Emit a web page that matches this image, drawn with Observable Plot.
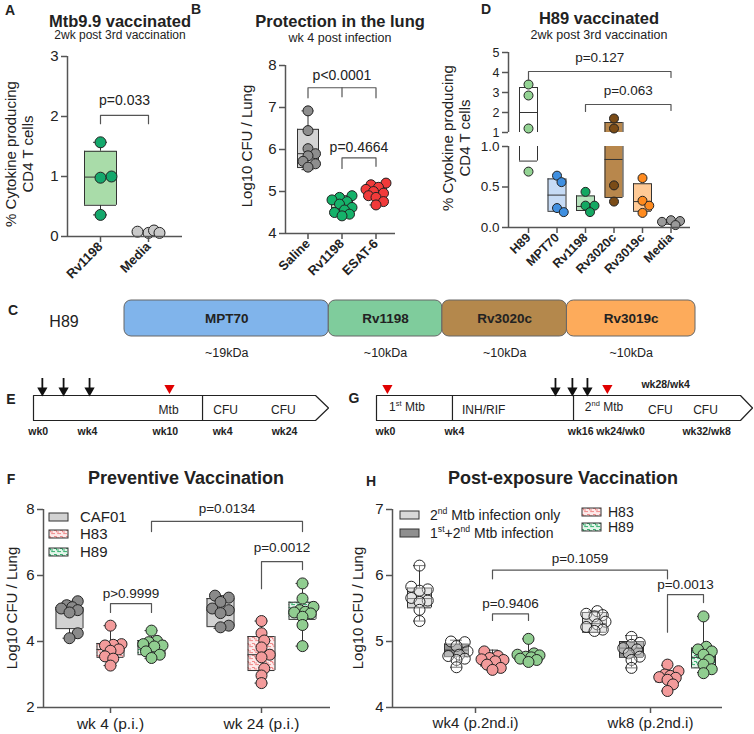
<!DOCTYPE html>
<html><head><meta charset="utf-8">
<script src="https://cdn.jsdelivr.net/npm/d3@7"></script>
<script src="https://cdn.jsdelivr.net/npm/@observablehq/plot@0.6"></script>
<style>
html,body{margin:0;padding:0;background:#fff;}
#root{position:relative;width:754px;height:734px;overflow:hidden;font-family:"Liberation Sans",Arial,sans-serif;color:#222;}
.t{position:absolute;white-space:nowrap;line-height:1.15;}
.t sup{font-size:62%;vertical-align:super;line-height:0;}
</style></head><body>
<svg width="0" height="0" style="position:absolute">
 <defs>
  <pattern id="p83" patternUnits="userSpaceOnUse" width="6" height="6">
   <rect width="6" height="6" fill="#fdeaea"/>
   <path d="M0 1.5h2.5v1.5h2.5M3.2 4.6h2.8M0 4.6h1" stroke="#ee8080" stroke-width="0.9" fill="none"/>
  </pattern>
  <pattern id="p89" patternUnits="userSpaceOnUse" width="6" height="6">
   <rect width="6" height="6" fill="#e4f5ea"/>
   <path d="M0 1.5h2.5v1.5h2.5M3.2 4.6h2.8M0 4.6h1" stroke="#22a862" stroke-width="0.9" fill="none"/>
  </pattern>
 </defs>
</svg>
<div id="root"></div>
<script>
// ======================= DATA =======================
// A — Mtb9.9 vaccinated
const aCats = ["Rv1198", "Media"];
const aRv1198 = [1.57, 1.00, 0.98, 0.36];
const aMedia = [0.06, 0.10, 0.06, 0.08];
const aQ1 = [0.52, 0.06];
const aMedian = [0.99, 0.07];
const aQ3 = [1.42, 0.09];
const aLow = [0.36, null];
const aHigh = [1.57, null];
const aTicks = [0, 1, 2, 3];
const aP = ["p=0.033"];

// B — Protection in the lung
const bCats = ["Saline", "Rv1198", "ESAT-6"];
const bSaline = [6.92, 6.45, 6.02, 5.90, 5.85, 5.72, 5.66, 5.58];
const bRv1198 = [4.90, 4.86, 4.80, 4.76, 4.70, 4.62, 4.56, 4.50, 4.46, 4.42];
const bEsat6 = [5.20, 5.16, 5.10, 5.05, 5.00, 4.96, 4.90, 4.86, 4.76, 4.68];
const bQ1 = [5.57, 4.52, 4.85];
const bMedian = [5.90, 4.62, 4.97];
const bQ3 = [6.48, 4.82, 5.10];
const bLow = [5.52, 4.42, 4.68];
const bHigh = [6.92, 4.90, 5.20];
const bTicks = [4, 5, 6, 7, 8];
const bP = ["p<0.0001", "p=0.4664"];

// D — H89 vaccinated (broken axis)
const dCats = ["H89", "MPT70", "Rv1198", "Rv3020c", "Rv3019c", "Media"];
const dH89 = [3.40, 2.85, 1.20, 0.69];
const dMPT70 = [0.64, 0.56, 0.24, 0.19];
const dRv1198 = [0.44, 0.27, 0.27, 0.19];
const dRv3020c = [1.70, 1.20, 0.52, 0.32];
const dRv3019c = [0.61, 0.33, 0.27, 0.18];
const dMedia = [0.09, 0.08, 0.07, 0.03];
const dQ1 = [0.82, 0.20, 0.21, 0.37, 0.20, 0.04];
const dMedian = [2.00, 0.40, 0.26, 0.84, 0.32, 0.06];
const dQ3 = [3.25, 0.60, 0.39, 1.50, 0.54, 0.08];
const dTicksUpper = [1, 2, 3, 4, 5];
const dTicksLower = [0, 0.5, 1];
const dP = ["p=0.127", "p=0.063"];

// C — H89 fusion construct
const cProteins = ["MPT70", "Rv1198", "Rv3020c", "Rv3019c"];
const cLength = [205, 114, 125, 129];
const cSize = ["~19kDa", "~10kDa", "~10kDa", "~10kDa"];

// E — preventive timeline (schematic units 0-100)
const eVacc = [3.0, 10.2, 19.0];
const eInfect = [46.1];
const eDividers = [57.3];
const eBoxLabels = ["Mtb", "CFU", "CFU"];
const eBoxLabelPos = [45.8, 65.1, 84.7];
const eTickLabels = ["wk0", "wk4", "wk10", "wk4", "wk24"];
const eTickPos = [1.6, 18.3, 44.7, 64.1, 85.1];

// G — post-exposure timeline (schematic units 0-100)
const gVacc = [47.6, 52.1, 56.1];
const gInfect = [2.9, 61.4];
const gDividers = [20.2, 52.4];
const gBoxLabels = ["INH/RIF", "CFU", "CFU"];
const gBoxLabelPos = [28.5, 75.5, 87.5];
const gTickLabels = ["wk0", "wk4", "wk16", "wk24/wk0", "wk32/wk8"];
const gTickPos = [2.4, 20.7, 54.3, 64.9, 87.8];

// F — Preventive Vaccination
const fCats = ["wk 4 (p.i.)", "wk 24 (p.i.)"];
const fGroups = ["CAF01", "H83", "H89"];
const fCaf01Wk4 = [5.22, 5.10, 5.04, 5.00, 4.95, 4.88, 4.25, 4.10];
const fH83Wk4 = [4.48, 3.92, 3.90, 3.88, 3.76, 3.72, 3.55, 3.48, 3.27];
const fH89Wk4 = [4.33, 4.02, 3.98, 3.92, 3.88, 3.85, 3.70, 3.60, 3.50];
const fCaf01Wk24 = [5.39, 5.33, 5.20, 5.00, 4.95, 4.86, 4.48, 4.43];
const fH83Wk24 = [4.62, 4.25, 4.03, 3.82, 3.60, 3.52, 3.18, 2.97, 2.74];
const fH89Wk24 = [5.76, 5.30, 5.05, 4.95, 4.90, 4.88, 4.85, 4.75, 4.50, 3.86];
const fQ1 = [4.39, 3.52, 3.60, 4.45, 3.12, 4.67];
const fMedian = [4.98, 3.76, 3.87, 4.95, 3.60, 4.89];
const fQ3 = [5.03, 3.94, 4.03, 5.30, 4.15, 5.19];
const fLow = [4.10, 3.27, 3.48, 4.40, 2.74, 3.86];
const fHigh = [5.22, 4.48, 4.33, 5.39, 4.62, 5.76];
const fTicks = [2, 4, 6, 8];
const fP = ["p=0.0134", "p=0.0012", "p>0.9999"];

// H — Post-exposure Vaccination
const hCats = ["wk4 (p.2nd.i)", "wk8 (p.2nd.i)"];
const hGroups = ["2<sup>nd</sup> Mtb infection only", "1<sup>st</sup>+2<sup>nd</sup> Mtb infection", "H83", "H89"];
const hG1Wk4 = [6.15, 5.83, 5.79, 5.77, 5.66, 5.62, 5.60, 5.48, 5.31];
const hG2Wk4 = [5.00, 4.99, 4.93, 4.85, 4.80, 4.78, 4.74, 4.72, 4.61];
const hH83Wk4 = [4.85, 4.78, 4.75, 4.73, 4.72, 4.70, 4.65, 4.60, 4.57];
const hH89Wk4 = [5.04, 4.82, 4.80, 4.79, 4.77, 4.76, 4.74, 4.72, 4.69];
const hG1Wk8 = [5.46, 5.42, 5.40, 5.38, 5.30, 5.26, 5.22, 5.18, 5.16];
const hG2Wk8 = [5.07, 4.98, 4.95, 4.90, 4.88, 4.82, 4.77, 4.72, 4.60];
const hH83Wk8 = [4.65, 4.55, 4.50, 4.48, 4.46, 4.45, 4.42, 4.35, 4.25];
const hH89Wk8 = [5.38, 4.92, 4.88, 4.85, 4.80, 4.72, 4.65, 4.58, 4.52];
const hQ1 = [5.51, 4.77, 4.63, 4.70, 5.14, 4.76, 4.39, 4.60];
const hMedian = [5.65, 4.87, 4.72, 4.77, 5.27, 4.90, 4.45, 4.76];
const hQ3 = [5.81, 4.96, 4.78, 4.81, 5.44, 5.00, 4.51, 4.90];
const hLow = [5.31, 4.61, 4.57, 4.69, 5.14, 4.60, 4.25, 4.53];
const hHigh = [6.15, 5.02, 4.87, 5.04, 5.46, 5.09, 4.64, 5.38];
const hTicks = [4, 5, 6, 7];
const hP = ["p=0.1059", "p=0.0013", "p=0.9406"];

// ======================= STYLES =======================
const INK = "#333", AXC = "#555", TXT = "#222";
const A_BOX = ["#a9dca9", "#dcdcdc"], A_PT = ["#14a86c", "#c9c9c9"];
const B_BOX = ["#d4d4d4", "#c3e6c3", "#f6c0c0"], B_PT = ["#8e8e8e", "#15b26a", "#f13a3a"];
const D_BOX = ["#ffffff", "#c6dbf5", "#b7e3bd", "#b8874c", "#ffca96", "#cfcfcf"];
const D_PT = ["#93d393", "#3f8fe0", "#14a862", "#7b4c17", "#ff8b1f", "#9a9a9a"];
const F_BOX = ["#d2d2d2", "url(#p83)", "url(#p89)"], F_PT = ["#8a8a8a", "#f39b9b", "#90cd90"];
const H_BOX = ["#d9d9d9", "#8f8f8f", "url(#p83)", "url(#p89)"];
const H_PT = ["rgba(255,255,255,0.35)", "rgba(255,255,255,0.35)", "#f39b9b", "#90cd90"];
const C_FILL = ["#80b4eb", "#7fcc9c", "#b4884c", "#fdab5b"];
const BASE = {fontFamily: '"Liberation Sans", Arial, sans-serif', fontSize: "14px", color: TXT, overflow: "visible", background: "transparent"};

// ======================= HELPERS =======================
const root = document.getElementById("root");
function place(el, left, top) { el.style.position = "absolute"; el.style.left = left + "px"; el.style.top = top + "px"; root.appendChild(el); }
function txt(html, x, y, o = {}) {
  const d = document.createElement("div"); d.className = "t"; d.innerHTML = html;
  d.style.left = x + "px"; d.style.top = y + "px"; d.style.fontSize = (o.size || 14) + "px";
  d.style.fontWeight = o.bold ? "bold" : "normal";
  const tx = o.anchor === "start" ? "0" : o.anchor === "end" ? "-100%" : "-50%";
  d.style.transform = `translate(${tx},-50%)` + (o.rot ? ` rotate(${o.rot}deg)` : "");
  root.appendChild(d);
}
function swatch(x, y, w, h, fill) {
  const ns = "http://www.w3.org/2000/svg";
  const s = document.createElementNS(ns, "svg"); s.setAttribute("width", w + 2); s.setAttribute("height", h + 2);
  const r = document.createElementNS(ns, "rect"); r.setAttribute("x", 1); r.setAttribute("y", 1); r.setAttribute("width", w); r.setAttribute("height", h);
  r.setAttribute("fill", fill); r.setAttribute("stroke", INK); s.appendChild(r); place(s, x - 1, y - h / 2 - 1);
}
function swarm(py, r, maxOff, gap) {
  const n = py.length, out = new Array(n), placed = [];
  const order = d3.range(n).sort((a, b) => py[a] - py[b]);
  const cands = [0];
  for (let k = 1; k * r * 0.5 <= maxOff + 1e-6; k++) cands.push(k * r * 0.5, -k * r * 0.5);
  for (const i of order) {
    let best = 0, bestD = -1;
    for (const c of cands) {
      const d = placed.length ? d3.min(placed, p => Math.hypot(p.x - c, p.y - py[i])) : Infinity;
      if (d >= gap * r) { best = c; break; }
      if (d > bestD) { bestD = d; best = c; }
    }
    out[i] = best; placed.push({x: best, y: py[i]});
  }
  return out;
}
function groupPoints(groups, toPx, pxX, r, maxOff, gap) {
  const out = [];
  for (const g of groups) {
    const off = swarm(g.vals.map(toPx), r, maxOff, gap);
    g.vals.forEach((v, j) => out.push({x: g.x + off[j] / pxX, y: v, fill: g.pt}));
  }
  return out;
}
function boxMarks(groups, [d0, d1], hw, cap) {
  const inR = v => v != null && v >= d0 && v <= d1;
  const bx = groups.filter(g => g.q1 != null && g.q3 >= d0 && g.q1 <= d1)
    .map(g => ({...g, b1: Math.max(g.q1, d0), b2: Math.min(g.q3, d1)}));
  const wl = groups.filter(g => inR(g.lo)), wh = groups.filter(g => inR(g.hi));
  const ln = {stroke: INK, strokeWidth: 1};
  const L = g => g.x - hw, R = g => g.x + hw, CL = g => g.x - cap, CR = g => g.x + cap;
  return [
    Plot.ruleX(wl, {x: "x", y1: "lo", y2: "q1", ...ln}),
    Plot.ruleX(wh, {x: "x", y1: "q3", y2: "hi", ...ln}),
    Plot.ruleY(wl, {y: "lo", x1: CL, x2: CR, ...ln}),
    Plot.ruleY(wh, {y: "hi", x1: CL, x2: CR, ...ln}),
    Plot.rect(bx, {x1: L, x2: R, y1: "b1", y2: "b2", fill: "fill"}),
    Plot.ruleX(bx, {x: L, y1: "b1", y2: "b2", ...ln}),
    Plot.ruleX(bx, {x: R, y1: "b1", y2: "b2", ...ln}),
    Plot.ruleY(bx.filter(g => inR(g.q1)), {y: "q1", x1: L, x2: R, ...ln}),
    Plot.ruleY(bx.filter(g => inR(g.q3)), {y: "q3", x1: L, x2: R, ...ln}),
    Plot.ruleY(bx.filter(g => inR(g.med)), {y: "med", x1: L, x2: R, ...ln})
  ];
}
function brackets(list, fs) {
  const path = [];
  list.forEach((b, i) => path.push({k: i, x: b.x1, y: b.d1}, {k: i, x: b.x1, y: b.y}, {k: i, x: b.x2, y: b.y}, {k: i, x: b.x2, y: b.d2}));
  const mids = list.flatMap(b => (b.mids || []).map(m => ({x: m, y1: b.y, y2: b.d1})));
  return [
    Plot.line(path, {x: "x", y: "y", z: "k", stroke: "#555", strokeWidth: 1.2}),
    Plot.ruleX(mids, {x: "x", y1: "y1", y2: "y2", stroke: "#555", strokeWidth: 1.2}),
    Plot.text(list, {x: b => (b.x1 + b.x2) / 2, y: "ty", text: "label", fontSize: fs, fill: TXT})
  ];
}
const yAxis = (ticks, fmt, fs) => Plot.axisY({ticks, tickFormat: fmt, tickSize: 6, tickPadding: 3, fontSize: fs, stroke: AXC, strokeWidth: 1.5, fill: TXT, label: null});
const xAxis = (ticks, fmt, fs, rot, bold) => Plot.axisX({ticks, tickFormat: fmt, tickSize: 6, tickPadding: rot ? 2 : 4, fontSize: fs, tickRotate: rot || 0, fontWeight: bold ? "bold" : "normal", stroke: AXC, strokeWidth: 1.5, fill: TXT, label: null});
const axisLines = (xmin, ymin) => [Plot.ruleX([xmin], {stroke: AXC, strokeWidth: 1.5}), Plot.ruleY([ymin], {stroke: AXC, strokeWidth: 1.5})];

// ======================= PANEL A =======================
{
  const pxX = 48, pxY = 60, r = 5.5;
  const vals = [aRv1198, aMedia];
  const groups = aCats.map((c, i) => ({x: i, vals: vals[i], q1: aQ1[i], med: aMedian[i], q3: aQ3[i], lo: aLow[i], hi: aHigh[i], fill: A_BOX[i], pt: A_PT[i]}));
  const pts = groupPoints(groups, v => v * pxY, pxX, r, 14, 1.6);
  const xd = [-33 / pxX, 82 / pxX];
  place(Plot.plot({
    width: 190, height: 300, marginLeft: 67, marginRight: 8, marginTop: 56, marginBottom: 64,
    x: {domain: xd}, y: {domain: [0, 3]}, color: {type: "identity"}, style: BASE,
    marks: [
      ...boxMarks(groups, [0, 3], 16 / pxX, 7 / pxX),
      Plot.dot(pts, {x: "x", y: "y", r, fill: "fill", stroke: "#222", strokeWidth: 1}),
      ...brackets([{x1: 0, x2: 1, y: 2.02, d1: 1.88, d2: 1.88, ty: 2.27, label: aP[0]}], 14),
      ...axisLines(xd[0], 0),
      yAxis(aTicks, d3.format("d"), 15),
      xAxis([0, 1], i => aCats[i], 13, -45, true)
    ]
  }), 0, 0);
}

// ======================= PANEL B =======================
{
  const pxX = 34, pxY = 42, r = 5;
  const vals = [bSaline, bRv1198, bEsat6];
  const groups = bCats.map((c, i) => ({x: i, vals: vals[i], q1: bQ1[i], med: bMedian[i], q3: bQ3[i], lo: bLow[i], hi: bHigh[i], fill: B_BOX[i], pt: B_PT[i]}));
  const pts = groupPoints(groups, v => v * pxY, pxX, r, 10, 1.35);
  const xd = [-22.5 / pxX, 87.5 / pxX];
  place(Plot.plot({
    width: 210, height: 300, marginLeft: 95, marginRight: 5, marginTop: 65, marginBottom: 67,
    x: {domain: xd}, y: {domain: [4, 8]}, color: {type: "identity"}, style: BASE,
    marks: [
      ...boxMarks(groups, [4, 8], 10.5 / pxX, 6 / pxX),
      Plot.dot(pts, {x: "x", y: "y", r, fill: "fill", stroke: "#222", strokeWidth: 1}),
      ...brackets([
        {x1: 0, x2: 2, y: 7.47, d1: 7.23, d2: 7.23, mids: [1], ty: 7.77, label: bP[0]},
        {x1: 1, x2: 2, y: 5.80, d1: 5.55, d2: 5.60, ty: 6.04, label: bP[1]}
      ], 14),
      ...axisLines(xd[0], 4),
      yAxis(bTicks, d3.format("d"), 15),
      xAxis([0, 1, 2], i => bCats[i], 13, -45, true)
    ]
  }), 190, 0);
}

// ======================= PANEL D (broken y axis) =======================
{
  const pxX = 28.5, r = 4.5, hw = 9 / pxX;
  const toPx = v => v >= 1 ? 132 - (v - 1) * 20 : 227 - v * 82;
  const vals = [dH89, dMPT70, dRv1198, dRv3020c, dRv3019c, dMedia];
  const groups = dCats.map((c, i) => ({x: i, vals: vals[i], q1: dQ1[i], med: dMedian[i], q3: dQ3[i], lo: null, hi: null, fill: D_BOX[i], pt: D_PT[i]}));
  const pts = groupPoints(groups, toPx, pxX, r, 10, 1.6);
  const xd = [-20 / pxX, 162 / pxX];
  const dot = {x: "x", y: "y", r, fill: "fill", stroke: "#222", strokeWidth: 1};
  place(Plot.plot({
    width: 374, height: 140, marginLeft: 128, marginRight: 64, marginTop: 52, marginBottom: 8,
    x: {domain: xd, axis: null}, y: {domain: [1, 5]}, color: {type: "identity"}, style: BASE,
    marks: [
      ...boxMarks(groups, [1, 5], hw, 0),
      Plot.dot(pts.filter(p => p.y >= 1), dot),
      ...brackets([
        {x1: 0, x2: 5, y: 4.05, d1: 3.6, d2: 3.75, ty: 4.75, label: dP[0]},
        {x1: 2, x2: 5, y: 2.4, d1: 2.05, d2: 2.1, ty: 3.1, label: dP[1]}
      ], 13.5),
      Plot.ruleX([xd[0]], {stroke: AXC, strokeWidth: 1.5}),
      yAxis(dTicksUpper, d3.format("d"), 12.5)
    ]
  }), 380, 0);
  place(Plot.plot({
    width: 374, height: 150, marginLeft: 128, marginRight: 64, marginTop: 6, marginBottom: 63,
    x: {domain: xd}, y: {domain: [0, 1]}, color: {type: "identity"}, style: BASE,
    marks: [
      ...boxMarks(groups, [0, 1], hw, 0),
      Plot.dot(pts.filter(p => p.y < 1), dot),
      ...axisLines(xd[0], 0),
      yAxis(dTicksLower, d3.format(".1f"), 13.5),
      xAxis(d3.range(dCats.length), i => dCats[i], 12.5, -45, true)
    ]
  }), 380, 140);
}

// ======================= PANEL C =======================
{
  let acc = 0;
  const rows = cProteins.map((p, i) => { const s = acc; acc += cLength[i]; return {p, s, e: acc, size: cSize[i], fill: C_FILL[i]}; });
  place(Plot.plot({
    width: 754, height: 80, marginLeft: 124, marginRight: 59, marginTop: 10, marginBottom: 34,
    x: {domain: [0, acc], axis: null}, y: {domain: [0, 1], axis: null}, color: {type: "identity"}, style: BASE,
    marks: [
      Plot.rect(rows, {x1: "s", x2: "e", y1: 0, y2: 1, fill: "fill", stroke: "#666", strokeWidth: 1, rx: 7}),
      Plot.text(rows, {x: d => (d.s + d.e) / 2, y: 0.5, text: "p", fontSize: 13.5, fontWeight: "bold", fill: TXT}),
      Plot.text(rows, {x: d => (d.s + d.e) / 2, y: -0.47, text: "size", fontSize: 12.5, fill: TXT})
    ]
  }), 0, 290);
}

// ======================= PANELS E & G (timelines) =======================
function timeline(vacc, infect, dividers, labels, labelPos, ticks, tickPos, tipStart, extra) {
  const outline = [[0, 1], [tipStart, 1], [100, 0.5], [tipStart, 0], [0, 0], [0, 1]];
  return [
    Plot.line(outline, {x: d => d[0], y: d => d[1], stroke: "#222", strokeWidth: 1.2}),
    Plot.ruleX(dividers, {y1: 0, y2: 1, stroke: "#222", strokeWidth: 1.2}),
    Plot.ruleX(vacc, {y1: 1.05, y2: 1.68, stroke: "#111", strokeWidth: 1.8}),
    Plot.dot(vacc, {x: d => d, y: 1.2, symbol: "triangle", rotate: 180, r: 3.8, fill: "#111"}),
    Plot.dot(infect, {x: d => d, y: 1.3, symbol: "triangle", rotate: 180, r: 3.8, fill: "#e00000"}),
    Plot.text(labels, {x: (d, i) => labelPos[i], y: 0.42, fontSize: 12, fill: TXT}),
    Plot.text(ticks, {x: (d, i) => tickPos[i], y: -0.44, fontSize: 10.5, fontWeight: "bold", fill: TXT}),
    ...(extra || [])
  ];
}
place(Plot.plot({
  width: 365, height: 75, marginLeft: 33, marginRight: 37, marginTop: 30, marginBottom: 20,
  x: {domain: [0, 100], axis: null}, y: {domain: [0, 1], axis: null}, style: BASE,
  marks: timeline(eVacc, eInfect, eDividers, eBoxLabels, eBoxLabelPos, eTickLabels, eTickPos, 95.6)
}), 0, 365);
place(Plot.plot({
  width: 389, height: 75, marginLeft: 11, marginRight: 2, marginTop: 30, marginBottom: 20,
  x: {domain: [0, 100], axis: null}, y: {domain: [0, 1], axis: null}, style: BASE,
  marks: timeline(gVacc, gInfect, gDividers, gBoxLabels, gBoxLabelPos, gTickLabels, gTickPos, 96.8,
    [Plot.text(["wk28/wk4"], {x: 76.9, y: 1.42, fontSize: 10.5, fontWeight: "bold", fill: TXT})])
}), 365, 365);

// ======================= PANEL F =======================
{
  const pxX = 151, pxY = 33, r = 5.5, off = 41 / pxX;
  const vals = [fCaf01Wk4, fH83Wk4, fH89Wk4, fCaf01Wk24, fH83Wk24, fH89Wk24];
  const groups = vals.map((v, k) => { const c = Math.floor(k / 3), g = k % 3;
    return {x: c + (g - 1) * off, vals: v, q1: fQ1[k], med: fMedian[k], q3: fQ3[k], lo: fLow[k], hi: fHigh[k], fill: F_BOX[g], pt: F_PT[g]}; });
  const pts = groupPoints(groups, v => v * pxY, pxX, r, 12, 1.35);
  const xd = [-67 / pxX, 220 / pxX];
  place(Plot.plot({
    width: 370, height: 254, marginLeft: 43, marginRight: 40, marginTop: 29, marginBottom: 27,
    x: {domain: xd}, y: {domain: [2, 8]}, color: {type: "identity"}, style: BASE,
    marks: [
      ...boxMarks(groups, [2, 8], 13.5 / pxX, 6.5 / pxX),
      Plot.dot(pts, {x: "x", y: "y", r, fill: "fill", stroke: "#222", strokeWidth: 1}),
      ...brackets([
        {x1: off, x2: 1 + off, y: 7.64, d1: 7.33, d2: 7.33, ty: 8.03, label: fP[0]},
        {x1: 1, x2: 1 + off, y: 6.42, d1: 5.6, d2: 6.18, ty: 6.85, label: fP[1]},
        {x1: 0, x2: off, y: 5.15, d1: 4.88, d2: 4.88, ty: 5.45, label: fP[2]}
      ], 13.5),
      ...axisLines(xd[0], 2),
      yAxis(fTicks, d3.format("d"), 15),
      xAxis([0, 1], i => fCats[i], 15.5, 0, false)
    ]
  }), 0, 480);
  const ly = [517, 534, 552];
  fGroups.forEach((g, i) => { swatch(49, ly[i], 19, 8, F_BOX[i]); txt(g, 80, ly[i], {size: 15, anchor: "start"}); });
}

// ======================= PANEL H =======================
{
  const pxX = 175, pxY = 66, r = 5.5;
  const offs = [-56, -19, 17, 53].map(v => v / pxX);
  const vals = [hG1Wk4, hG2Wk4, hH83Wk4, hH89Wk4, hG1Wk8, hG2Wk8, hH83Wk8, hH89Wk8];
  const groups = vals.map((v, k) => { const c = Math.floor(k / 4), g = k % 4;
    return {x: c + offs[g], vals: v, q1: hQ1[k], med: hMedian[k], q3: hQ3[k], lo: hLow[k], hi: hHigh[k], fill: H_BOX[g], pt: H_PT[g]}; });
  const pts = groupPoints(groups, v => v * pxY, pxX, r, 11, 1.3);
  const xd = [-83 / pxX, 247 / pxX];
  place(Plot.plot({
    width: 384, height: 254, marginLeft: 22, marginRight: 32, marginTop: 29, marginBottom: 27,
    x: {domain: xd}, y: {domain: [4, 7]}, color: {type: "identity"}, style: BASE,
    marks: [
      ...boxMarks(groups, [4, 7], 12 / pxX, 6 / pxX),
      Plot.dot(pts, {x: "x", y: "y", r, fill: "fill", stroke: "#222", strokeWidth: 1}),
      ...brackets([
        {x1: offs[2], x2: 1 + offs[2], y: 6.08, d1: 5.95, d2: 5.95, ty: 6.26, label: hP[0]},
        {x1: 1 + offs[2], x2: 1 + offs[3], y: 5.71, d1: 5.14, d2: 5.59, ty: 5.86, label: hP[1]},
        {x1: offs[2], x2: offs[3], y: 5.42, d1: 5.32, d2: 5.32, ty: 5.58, label: hP[2]}
      ], 13.5),
      ...axisLines(xd[0], 4),
      yAxis(hTicks, d3.format("d"), 15),
      xAxis([0, 1], i => hCats[i], 15, 0, false)
    ]
  }), 370, 480);
  const lpos = [[400, 515], [400, 533], [582, 512], [582, 527]];
  hGroups.forEach((g, i) => { swatch(lpos[i][0], lpos[i][1], 19, 8, H_BOX[i]); txt(g, lpos[i][0] + (i < 2 ? 30 : 26), lpos[i][1], {size: 14, anchor: "start"}); });
}

// ======================= TEXT: titles, letters, axis titles =======================
txt("A", 10, 10, {size: 14, bold: true});
txt("B", 196, 9, {size: 14, bold: true});
txt("D", 486, 9, {size: 14, bold: true});
txt("C", 13, 310, {size: 14, bold: true});
txt("E", 11, 399, {size: 14, bold: true});
txt("G", 354, 398, {size: 14, bold: true});
txt("F", 11, 479, {size: 14, bold: true});
txt("H", 371, 481, {size: 14, bold: true});
txt("Mtb9.9 vaccinated", 120, 21, {size: 16.5, bold: true});
txt("2wk post 3rd vaccination", 120, 36, {size: 12});
txt("Protection in the lung", 340, 21, {size: 16.5, bold: true});
txt("wk 4 post infection", 340, 38, {size: 12.5});
txt("H89 vaccinated", 599, 18, {size: 16.5, bold: true});
txt("2wk post 3rd vaccination", 599, 35, {size: 12.5});
txt("% Cytokine producing", 11, 154, {size: 15, rot: -90});
txt("CD4 T cells", 28, 154, {size: 15, rot: -90});
txt("Log10 CFU / Lung", 247, 146, {size: 15, rot: -90});
txt("% Cytokine producing", 448, 138, {size: 15, rot: -90});
txt("CD4 T cells", 465, 138, {size: 15, rot: -90});
txt("H89", 64, 322, {size: 16});
txt("1<sup>st</sup> Mtb", 407, 408, {size: 12});
txt("2<sup>nd</sup> Mtb", 604, 408, {size: 12});
txt("Preventive Vaccination", 186, 478, {size: 18, bold: true});
txt("Post-exposure Vaccination", 563, 478, {size: 18, bold: true});
txt("Log10 CFU / Lung", 12, 608, {size: 15, rot: -90});
txt("Log10 CFU / Lung", 358, 608, {size: 15, rot: -90});
</script></body></html>
